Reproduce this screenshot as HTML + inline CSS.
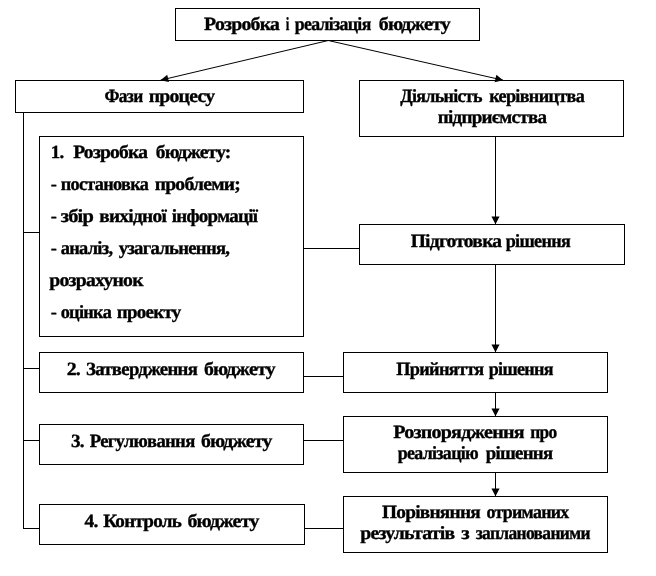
<!DOCTYPE html>
<html lang="uk">
<head>
<meta charset="utf-8">
<title>Розробка і реалізація бюджету</title>
<style>
html,body{margin:0;padding:0;background:#fff;}
body{width:656px;height:576px;overflow:hidden;}
svg{display:block;will-change:transform;}
text{font-family:"Liberation Serif","DejaVu Serif",serif;font-weight:bold;font-size:18.67px;fill:#000;text-rendering:geometricPrecision;stroke:#000;stroke-width:.35px;letter-spacing:-0.7px;stroke-linejoin:round;}
.b{fill:none;stroke:#000;stroke-width:1;shape-rendering:crispEdges;}
.l{stroke:#000;stroke-width:1;shape-rendering:crispEdges;}
.d{stroke:#000;stroke-width:1;}
.a{fill:#000;}
</style>
</head>
<body>
<svg width="656" height="576" viewBox="0 0 656 576">
<rect width="656" height="576" fill="#fff"/>
<rect class="b" x="175.5" y="8.5" width="304" height="32"/>
<rect class="b" x="15.5" y="80.5" width="288" height="32"/>
<rect class="b" x="359.5" y="80.5" width="264" height="56"/>
<rect class="b" x="39.5" y="136.5" width="264" height="200"/>
<rect class="b" x="359.5" y="224.5" width="265" height="40"/>
<rect class="b" x="39.5" y="352.5" width="264" height="40"/>
<rect class="b" x="343.5" y="352.5" width="264" height="40"/>
<rect class="b" x="39.5" y="424.5" width="264" height="40"/>
<rect class="b" x="343.5" y="416.5" width="264" height="56"/>
<rect class="b" x="39.5" y="504.5" width="265" height="40"/>
<rect class="b" x="343.5" y="496.5" width="264" height="56"/>
<line class="l" x1="23" y1="232.5" x2="40" y2="232.5"/>
<line class="l" x1="23" y1="368.5" x2="40" y2="368.5"/>
<line class="l" x1="23" y1="440.5" x2="40" y2="440.5"/>
<line class="l" x1="23" y1="528.5" x2="40" y2="528.5"/>
<line class="l" x1="303" y1="248.5" x2="360" y2="248.5"/>
<line class="l" x1="303" y1="376.5" x2="344" y2="376.5"/>
<line class="l" x1="303" y1="440.5" x2="344" y2="440.5"/>
<line class="l" x1="304" y1="528.5" x2="344" y2="528.5"/>
<line class="l" x1="23.5" y1="112" x2="23.5" y2="529"/>
<line class="l" x1="495.5" y1="136" x2="495.5" y2="225"/>
<line class="l" x1="495.5" y1="264" x2="495.5" y2="353"/>
<line class="l" x1="495.5" y1="392" x2="495.5" y2="417"/>
<line class="l" x1="495.5" y1="472" x2="495.5" y2="497"/>
<polygon class="a" points="495.5,224.3 491.45,216.4 499.55,216.4"/>
<polygon class="a" points="495.5,352.3 491.45,344.4 499.55,344.4"/>
<polygon class="a" points="495.5,416.3 491.45,408.4 499.55,408.4"/>
<polygon class="a" points="495.5,496.3 491.45,488.4 499.55,488.4"/>
<line class="d" x1="328.3" y1="40.5" x2="160.5" y2="80.2"/>
<polygon class="a" points="160.50,80.20 167.22,74.71 168.97,82.10"/>
<line class="d" x1="328.3" y1="40.5" x2="503.1" y2="80.2"/>
<polygon class="a" points="503.10,80.20 494.65,82.18 496.34,74.77"/>
<text y="30"><tspan x="204.10" textLength="75.10" lengthAdjust="spacingAndGlyphs">Розробка</tspan> <tspan x="285.70" textLength="3.10" lengthAdjust="spacingAndGlyphs">і</tspan> <tspan x="294.70" textLength="75.90" lengthAdjust="spacingAndGlyphs">реалізація</tspan> <tspan x="378.70" textLength="71.30" lengthAdjust="spacingAndGlyphs">бюджету</tspan></text>
<text y="102"><tspan x="104.45" textLength="38.15" lengthAdjust="spacingAndGlyphs">Фази</tspan> <tspan x="148.70" textLength="65.65" lengthAdjust="spacingAndGlyphs">процесу</tspan></text>
<text y="102"><tspan x="400.20" textLength="81.65" lengthAdjust="spacingAndGlyphs">Діяльність</tspan> <tspan x="489.20" textLength="94.90" lengthAdjust="spacingAndGlyphs">керівництва</tspan></text>
<text y="123"><tspan x="437.70" textLength="108.65" lengthAdjust="spacingAndGlyphs">підприємства</tspan></text>
<text y="158"><tspan x="50.70" textLength="12.70" lengthAdjust="spacingAndGlyphs">1.</tspan> <tspan x="73.20" textLength="74.15" lengthAdjust="spacingAndGlyphs">Розробка</tspan> <tspan x="155.70" textLength="74.90" lengthAdjust="spacingAndGlyphs">бюджету:</tspan></text>
<text y="190"><tspan x="50.70" textLength="5.40" lengthAdjust="spacingAndGlyphs">-</tspan> <tspan x="60.70" textLength="87.40" lengthAdjust="spacingAndGlyphs">постановка</tspan> <tspan x="154.70" textLength="85.40" lengthAdjust="spacingAndGlyphs">проблеми;</tspan></text>
<text y="222"><tspan x="50.70" textLength="5.40" lengthAdjust="spacingAndGlyphs">-</tspan> <tspan x="60.70" textLength="32.40" lengthAdjust="spacingAndGlyphs">збір</tspan> <tspan x="99.20" textLength="66.90" lengthAdjust="spacingAndGlyphs">вихідної</tspan> <tspan x="171.70" textLength="85.65" lengthAdjust="spacingAndGlyphs">інформації</tspan></text>
<text y="254"><tspan x="50.70" textLength="5.40" lengthAdjust="spacingAndGlyphs">-</tspan> <tspan x="60.70" textLength="51.65" lengthAdjust="spacingAndGlyphs">аналіз,</tspan> <tspan x="118.70" textLength="110.65" lengthAdjust="spacingAndGlyphs">узагальнення,</tspan></text>
<text y="286"><tspan x="49.20" textLength="93.65" lengthAdjust="spacingAndGlyphs">розрахунок</tspan></text>
<text y="318"><tspan x="50.70" textLength="5.40" lengthAdjust="spacingAndGlyphs">-</tspan> <tspan x="60.70" textLength="50.40" lengthAdjust="spacingAndGlyphs">оцінка</tspan> <tspan x="116.70" textLength="63.90" lengthAdjust="spacingAndGlyphs">проекту</tspan></text>
<text y="247"><tspan x="410.70" textLength="90.65" lengthAdjust="spacingAndGlyphs">Підготовка</tspan> <tspan x="505.70" textLength="64.40" lengthAdjust="spacingAndGlyphs">рішення</tspan></text>
<text y="375"><tspan x="66.70" textLength="13.40" lengthAdjust="spacingAndGlyphs">2.</tspan> <tspan x="85.95" textLength="111.15" lengthAdjust="spacingAndGlyphs">Затвердження</tspan> <tspan x="203.95" textLength="70.90" lengthAdjust="spacingAndGlyphs">бюджету</tspan></text>
<text y="375"><tspan x="396.20" textLength="87.40" lengthAdjust="spacingAndGlyphs">Прийняття</tspan> <tspan x="488.70" textLength="64.15" lengthAdjust="spacingAndGlyphs">рішення</tspan></text>
<text y="447"><tspan x="70.95" textLength="12.90" lengthAdjust="spacingAndGlyphs">3.</tspan> <tspan x="89.70" textLength="104.90" lengthAdjust="spacingAndGlyphs">Регулювання</tspan> <tspan x="200.95" textLength="70.65" lengthAdjust="spacingAndGlyphs">бюджету</tspan></text>
<text y="438"><tspan x="393.20" textLength="130.65" lengthAdjust="spacingAndGlyphs">Розпорядження</tspan> <tspan x="530.20" textLength="26.40" lengthAdjust="spacingAndGlyphs">про</tspan></text>
<text y="459"><tspan x="397.70" textLength="80.40" lengthAdjust="spacingAndGlyphs">реалізацію</tspan> <tspan x="485.70" textLength="66.65" lengthAdjust="spacingAndGlyphs">рішення</tspan></text>
<text y="527"><tspan x="84.45" textLength="13.15" lengthAdjust="spacingAndGlyphs">4.</tspan> <tspan x="103.20" textLength="77.90" lengthAdjust="spacingAndGlyphs">Контроль</tspan> <tspan x="187.45" textLength="71.15" lengthAdjust="spacingAndGlyphs">бюджету</tspan></text>
<text y="518"><tspan x="381.95" textLength="98.15" lengthAdjust="spacingAndGlyphs">Порівняння</tspan> <tspan x="486.45" textLength="82.15" lengthAdjust="spacingAndGlyphs">отриманих</tspan></text>
<text y="539"><tspan x="360.20" textLength="94.15" lengthAdjust="spacingAndGlyphs">результатів</tspan> <tspan x="461.20" textLength="7.65" lengthAdjust="spacingAndGlyphs">з</tspan> <tspan x="475.70" textLength="114.15" lengthAdjust="spacingAndGlyphs">запланованими</tspan></text>
</svg>
</body>
</html>
